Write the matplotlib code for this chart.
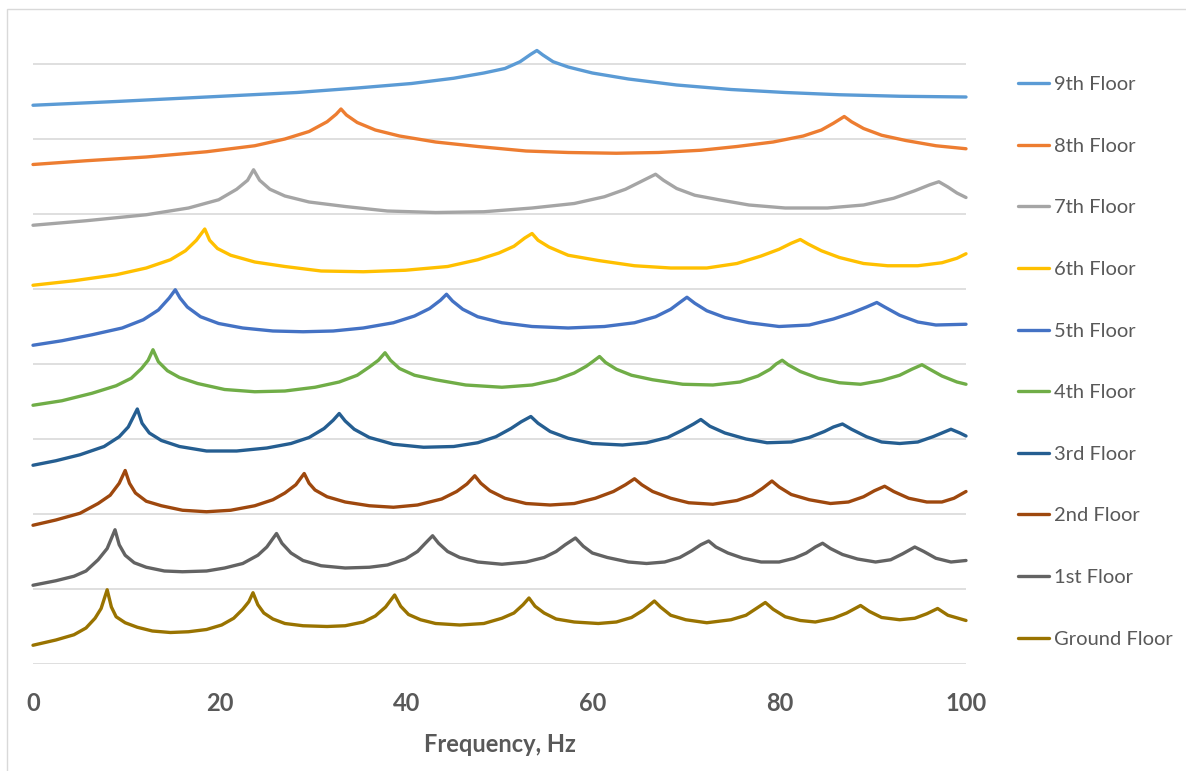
import matplotlib
matplotlib.use("Agg")
import matplotlib.pyplot as plt
from matplotlib.patches import Rectangle

# ---------------- data ----------------
floors = ["9th Floor", "8th Floor", "7th Floor", "6th Floor", "5th Floor",
          "4th Floor", "3rd Floor", "2nd Floor", "1st Floor", "Ground Floor"]

f9 = [0, 8.91, 18.6, 28.29, 34.75, 40.57, 45.09, 48.32, 50.58, 52.2, 53.36, 54.01, 54.65, 55.75, 57.36,
      59.95, 63.82, 68.99, 74.81, 80.62, 86.43, 92.89, 100]
a9 = [7.45, 7.50, 7.56, 7.62, 7.68, 7.74, 7.81, 7.88, 7.94, 8.03, 8.13, 8.18, 8.12, 8.03, 7.96,
      7.88, 7.80, 7.72, 7.66, 7.62, 7.59, 7.57, 7.56]

f8 = [0, 5.68, 12.14, 18.6, 23.77, 27.0, 29.59, 31.52, 32.49, 33.01, 33.59, 34.75, 36.69, 39.28, 43.15,
      47.67, 52.84, 57.36, 62.53, 67.05, 71.58, 75.45, 79.33, 82.56, 84.5, 85.79, 86.95, 87.73, 89.02,
      90.96, 93.54, 96.77, 100]
a8 = [6.66, 6.71, 6.76, 6.83, 6.91, 7.00, 7.10, 7.23, 7.33, 7.40, 7.32, 7.22, 7.12, 7.04, 6.96,
      6.90, 6.84, 6.82, 6.81, 6.82, 6.85, 6.90, 6.96, 7.04, 7.12, 7.21, 7.30, 7.23, 7.14,
      7.05, 6.98, 6.91, 6.87]

f7 = [0, 5.68, 12.14, 16.67, 19.9, 21.83, 23.0, 23.64, 24.29, 25.39, 27.0, 29.59, 33.46, 37.98, 43.15,
      48.32, 53.49, 58.01, 61.24, 63.5, 65.12, 66.73, 67.57, 68.99, 70.93, 73.51, 76.74, 80.62, 85.14,
      89.02, 92.25, 94.51, 96.12, 97.09, 98.06, 99.03, 100]
a7 = [5.85, 5.91, 5.99, 6.08, 6.19, 6.33, 6.45, 6.59, 6.45, 6.33, 6.24, 6.16, 6.10, 6.04, 6.02,
      6.03, 6.08, 6.14, 6.23, 6.33, 6.43, 6.53, 6.45, 6.34, 6.25, 6.19, 6.12, 6.08, 6.08,
      6.12, 6.21, 6.31, 6.39, 6.43, 6.36, 6.28, 6.22]

f6 = [0, 4.39, 8.91, 12.14, 14.73, 16.34, 17.51, 18.41, 18.93, 19.77, 21.19, 23.77, 27.0, 30.88, 35.4,
      39.92, 44.44, 47.67, 49.94, 51.55, 52.71, 53.49, 54.13, 55.3, 57.36, 60.59, 64.47, 68.35, 72.22,
      75.45, 78.04, 79.97, 81.27, 82.24, 83.07, 84.5, 86.43, 89.02, 91.6, 94.83, 97.42, 99.03, 100]
a6 = [5.05, 5.11, 5.19, 5.28, 5.39, 5.51, 5.65, 5.80, 5.65, 5.54, 5.45, 5.36, 5.30, 5.24, 5.23,
      5.25, 5.30, 5.39, 5.48, 5.57, 5.68, 5.74, 5.65, 5.56, 5.45, 5.38, 5.31, 5.28, 5.28,
      5.34, 5.44, 5.53, 5.61, 5.66, 5.60, 5.51, 5.42, 5.34, 5.31, 5.31, 5.35, 5.41, 5.47]

f5 = [0, 3.1, 6.33, 9.56, 11.82, 13.44, 14.6, 15.25, 15.76, 16.54, 17.96, 19.9, 22.48, 25.71, 28.94,
      32.17, 35.4, 38.63, 40.89, 42.51, 43.67, 44.32, 44.96, 46.06, 47.67, 50.26, 53.49, 57.36, 61.24,
      64.47, 66.73, 68.35, 69.32, 70.09, 70.93, 72.22, 74.16, 76.74, 79.97, 83.2, 85.79, 87.73, 89.34,
      90.44, 91.28, 92.89, 94.83, 96.77, 100]
a5 = [4.25, 4.31, 4.39, 4.48, 4.59, 4.72, 4.88, 4.99, 4.88, 4.76, 4.63, 4.54, 4.48, 4.44, 4.43,
      4.44, 4.48, 4.55, 4.64, 4.74, 4.85, 4.93, 4.84, 4.73, 4.63, 4.55, 4.50, 4.48, 4.50,
      4.55, 4.63, 4.73, 4.82, 4.89, 4.81, 4.71, 4.62, 4.55, 4.50, 4.52, 4.60, 4.68, 4.76,
      4.82, 4.76, 4.65, 4.56, 4.52, 4.53]

f4 = [0, 3.1, 6.33, 8.91, 10.53, 11.63, 12.34, 12.86, 13.44, 14.41, 15.7, 17.64, 20.54, 23.77, 27.0,
      30.23, 32.82, 34.75, 36.05, 37.02, 37.73, 38.31, 39.28, 40.89, 43.15, 46.38, 50.26, 53.49, 56.07,
      58.01, 59.3, 60.08, 60.72, 61.37, 62.53, 64.15, 66.41, 69.64, 72.87, 75.78, 77.71, 79.01, 79.65,
      80.3, 80.94, 82.24, 84.17, 86.43, 88.7, 90.96, 92.89, 94.19, 95.28, 96.12, 97.42, 99.03, 100]
a4 = [3.45, 3.51, 3.61, 3.71, 3.81, 3.94, 4.05, 4.19, 4.03, 3.91, 3.82, 3.74, 3.66, 3.63, 3.64,
      3.69, 3.76, 3.85, 3.96, 4.05, 4.15, 4.05, 3.94, 3.85, 3.79, 3.72, 3.69, 3.72, 3.79,
      3.88, 3.97, 4.04, 4.10, 4.02, 3.93, 3.85, 3.79, 3.73, 3.72, 3.76, 3.84, 3.93, 4.00,
      4.05, 3.99, 3.90, 3.81, 3.75, 3.73, 3.78, 3.85, 3.93, 3.99, 3.93, 3.84, 3.76, 3.73]

f3 = [0, 2.45, 5.04, 7.62, 9.24, 10.21, 11.18, 11.69, 12.47, 13.76, 15.7, 18.6, 21.83, 25.06, 27.65,
      29.59, 31.2, 32.17, 32.82, 33.46, 34.43, 36.05, 38.63, 41.86, 45.09, 47.67, 49.61, 51.23, 52.33,
      53.36, 54.13, 55.43, 57.36, 59.95, 63.18, 65.76, 68.02, 69.64, 70.8, 71.58, 72.55, 74.16, 76.42,
      78.68, 81.27, 83.2, 84.82, 85.79, 86.76, 87.73, 89.34, 90.96, 92.89, 94.83, 96.45, 97.42, 98.39,
      99.35, 100]
a3 = [2.65, 2.71, 2.79, 2.90, 3.03, 3.16, 3.40, 3.21, 3.08, 2.98, 2.90, 2.84, 2.84, 2.88, 2.94,
      3.02, 3.14, 3.25, 3.34, 3.24, 3.13, 3.02, 2.93, 2.89, 2.90, 2.95, 3.03, 3.14, 3.23,
      3.30, 3.21, 3.10, 3.01, 2.94, 2.92, 2.95, 3.02, 3.12, 3.20, 3.26, 3.17, 3.08, 3.00,
      2.95, 2.96, 3.02, 3.10, 3.16, 3.20, 3.13, 3.03, 2.96, 2.94, 2.96, 3.03, 3.08, 3.13,
      3.08, 3.04]

f2 = [0, 2.45, 5.04, 6.98, 8.27, 9.24, 9.88, 10.34, 10.98, 12.14, 13.76, 16.02, 18.6, 21.19, 23.77,
      25.71, 27.0, 28.17, 29.07, 29.59, 30.23, 31.52, 33.46, 36.05, 38.63, 41.21, 43.8, 45.41, 46.51,
      47.35, 48.0, 48.97, 50.58, 52.84, 55.43, 58.01, 60.27, 62.21, 63.5, 64.47, 65.25, 66.41, 68.35,
      70.28, 72.87, 75.45, 77.07, 78.17, 79.2, 79.97, 81.27, 83.2, 85.47, 87.4, 89.02, 90.18, 91.28,
      92.25, 93.86, 95.8, 97.42, 98.71, 100]
a2 = [1.85, 1.92, 2.01, 2.14, 2.25, 2.41, 2.58, 2.41, 2.28, 2.17, 2.11, 2.05, 2.03, 2.05, 2.11,
      2.19, 2.28, 2.39, 2.54, 2.41, 2.32, 2.23, 2.16, 2.11, 2.09, 2.12, 2.20, 2.30, 2.40,
      2.51, 2.41, 2.31, 2.21, 2.14, 2.12, 2.14, 2.21, 2.30, 2.39, 2.47, 2.39, 2.30, 2.21,
      2.15, 2.13, 2.18, 2.25, 2.34, 2.44, 2.36, 2.26, 2.19, 2.14, 2.16, 2.23, 2.31, 2.37,
      2.30, 2.21, 2.16, 2.16, 2.21, 2.30]

f1 = [0, 2.45, 4.39, 5.68, 6.98, 7.95, 8.79, 9.24, 9.88, 10.85, 12.14, 14.08, 16.02, 18.6, 20.54,
      22.48, 24.1, 25.06, 26.1, 26.68, 27.65, 28.94, 30.88, 33.46, 36.05, 37.98, 39.92, 41.21, 42.05,
      42.83, 43.47, 44.44, 45.74, 47.67, 50.26, 52.84, 54.78, 56.07, 57.04, 58.14, 58.98, 59.95, 61.56,
      63.82, 65.76, 67.7, 69.32, 70.61, 71.58, 72.42, 73.19, 74.48, 76.1, 78.04, 79.97, 81.59, 82.88,
      83.85, 84.63, 85.47, 86.76, 88.37, 90.31, 91.93, 93.22, 94.51, 95.48, 96.77, 98.39, 100]
a1 = [1.05, 1.11, 1.17, 1.24, 1.39, 1.54, 1.79, 1.59, 1.45, 1.35, 1.29, 1.24, 1.23, 1.24, 1.28,
      1.34, 1.45, 1.56, 1.74, 1.61, 1.48, 1.38, 1.31, 1.28, 1.29, 1.32, 1.40, 1.50, 1.61,
      1.71, 1.61, 1.50, 1.42, 1.36, 1.33, 1.36, 1.42, 1.50, 1.59, 1.68, 1.57, 1.48, 1.42,
      1.36, 1.34, 1.36, 1.42, 1.51, 1.59, 1.64, 1.56, 1.48, 1.41, 1.36, 1.36, 1.41, 1.48,
      1.56, 1.61, 1.54, 1.46, 1.40, 1.36, 1.39, 1.47, 1.56, 1.50, 1.41, 1.36, 1.38]

f0 = [0, 2.45, 4.39, 5.68, 6.65, 7.3, 7.95, 8.4, 8.91, 9.88, 11.18, 12.79, 14.73, 16.67, 18.6,
      20.22, 21.51, 22.48, 23.13, 23.58, 24.1, 24.74, 25.71, 27.0, 28.94, 31.52, 33.46, 35.4, 36.69,
      37.79, 38.76, 39.41, 40.25, 41.54, 43.15, 45.74, 48.32, 50.26, 51.55, 52.52, 53.16, 53.81, 54.78,
      56.07, 58.01, 60.59, 62.53, 64.15, 65.44, 66.6, 67.25, 68.35, 69.96, 72.22, 74.81, 76.42, 77.52,
      78.49, 79.33, 80.62, 82.24, 83.85, 85.79, 87.21, 88.7, 89.66, 90.96, 92.89, 94.51, 95.8, 96.96,
      98.06, 100]
a0 = [0.25, 0.32, 0.39, 0.48, 0.61, 0.74, 0.99, 0.76, 0.63, 0.55, 0.49, 0.44, 0.42, 0.43, 0.46,
      0.52, 0.61, 0.73, 0.83, 0.95, 0.79, 0.68, 0.60, 0.54, 0.51, 0.50, 0.51, 0.56, 0.64,
      0.76, 0.92, 0.77, 0.66, 0.59, 0.54, 0.52, 0.54, 0.61, 0.68, 0.79, 0.88, 0.77, 0.68,
      0.60, 0.56, 0.54, 0.56, 0.62, 0.72, 0.84, 0.76, 0.65, 0.59, 0.55, 0.59, 0.65, 0.74,
      0.82, 0.73, 0.63, 0.58, 0.56, 0.61, 0.68, 0.78, 0.70, 0.62, 0.59, 0.61, 0.67, 0.74,
      0.65, 0.58]

freqs = [f9, f8, f7, f6, f5, f4, f3, f2, f1, f0]
amps = [a9, a8, a7, a6, a5, a4, a3, a2, a1, a0]

x_ticks = [0, 20, 40, 60, 80, 100]
x_label = "Frequency, Hz"

# ---------------- style ----------------
colors = ["#5B9BD5", "#ED7D31", "#A5A5A5", "#FFC000", "#4472C4",
          "#70AD47", "#255E91", "#9E480E", "#636363", "#997300"]
text_color = "#595959"
grid_color = "#D9D9D9"

W, H = 1186, 771
fig = plt.figure(figsize=(W / 100, H / 100), dpi=100)
fig.patch.set_facecolor("white")

# outer chart border (cropped at right/bottom in the reference)
fig.add_artist(Rectangle((7 / W, -0.05), 1.2, (H - 9) / H + 0.05, transform=fig.transFigure,
                         fill=False, edgecolor=grid_color, linewidth=1.0))

ymax = 8.6
ax_left, ax_right = 33 / W, 966 / W
ax_bottom = (H - 664) / H
ax_height = ymax * 75 / H
ax = fig.add_axes([ax_left, ax_bottom, ax_right - ax_left, ax_height])
ax.set_xlim(0, 100)
ax.set_ylim(0, ymax)

for s in ax.spines.values():
    s.set_visible(False)

ax.set_yticks(range(0, 9))
ax.yaxis.grid(True, color=grid_color, linewidth=1.2)
ax.set_axisbelow(True)
ax.tick_params(axis="y", left=False, labelleft=False)

lines = []
for name, f, a, c in zip(floors, freqs, amps, colors):
    ln, = ax.plot(f, a, color=c, linewidth=2.4, solid_joinstyle="round", solid_capstyle="round",
                  label=name, clip_on=False)
    lines.append(ln)

ax.set_xticks(x_ticks)
ax.set_xticklabels([str(t) for t in x_ticks], fontsize=17, fontweight="bold",
                   color=text_color, family=["Lato", "DejaVu Sans"])
ax.tick_params(axis="x", length=0, pad=20)
ax.set_xlabel(x_label, fontsize=17, fontweight="bold", color=text_color,
              family=["Lato", "DejaVu Sans"], labelpad=13)

leg = fig.legend(handles=lines, loc="upper left", bbox_to_anchor=(1010 / W, 1 - 68 / H),
                 frameon=False, prop={"family": "Lato", "size": 14.5},
                 handlelength=1.55, handletextpad=0.25, labelspacing=2.21, borderaxespad=0)
for t in leg.get_texts():
    t.set_color(text_color)

fig.savefig("out.png", dpi=100, facecolor="white")
